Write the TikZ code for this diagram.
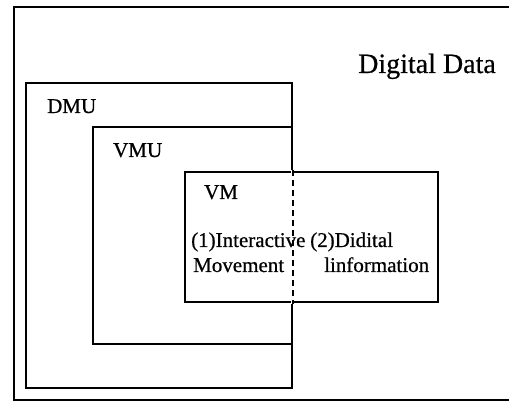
\documentclass[tikz,border=0pt]{standalone}
\usepackage{fontspec}
\setmainfont{Liberation Serif}[FakeBold=0.6]
\begin{document}
\begin{tikzpicture}[x=1pt,y=-1pt,
  box/.style={draw=black,line width=1.6pt,inner sep=0pt},
  lbl/.style={anchor=base west,inner sep=0pt,font=\fontsize{21}{25}\selectfont},
  biglbl/.style={anchor=base west,inner sep=0pt,font=\fontsize{28}{32}\selectfont}]
\useasboundingbox (0,0) rectangle (509,403);
% outer frame (open on the right)
\coordinate (otr) at (509,7);
\coordinate (otl) at (14,7);
\coordinate (obl) at (14,400);
\coordinate (obr) at (509,400);
\draw[line width=1.4pt] (otr) -- (otl) -- (obl) -- (obr);
% boxes
\node[box,minimum width=266pt,minimum height=305pt] (dmu) at (159,235.5) {};
\node[box,minimum width=199pt,minimum height=217pt] (vmu) at (192.5,235.5) {};
\node[box,minimum width=253pt,minimum height=130pt] (vm) at (311.5,237) {};
% dashed part of the shared right edge inside VM
\draw[white,line width=3pt] ([yshift=1.5pt]vm.north -| dmu.east) -- ([yshift=-1.5pt]vm.south -| dmu.east);
\draw[line width=1.4pt,dash pattern=on 6pt off 4pt] ([yshift=1pt]vm.north -| dmu.east) -- ([yshift=-1pt]vm.south -| dmu.east);
% labels
\node[biglbl] (dd) at (358,73) {Digital Data};
\node[lbl] (tdmu) at (47,113) {DMU};
\node[lbl] (tvmu) at (113,157) {VMU};
\node[lbl] (tvm) at (204,199) {VM};
\node[lbl] (t1a) at (191,247) {(1)Interactive};
\node[lbl] (t1b) at (193,272) {Movement};
\node[lbl] (t2a) at (310,247) {(2)Didital};
\node[lbl] (t2b) at (324,272) {linformation};
\end{tikzpicture}
\end{document}
